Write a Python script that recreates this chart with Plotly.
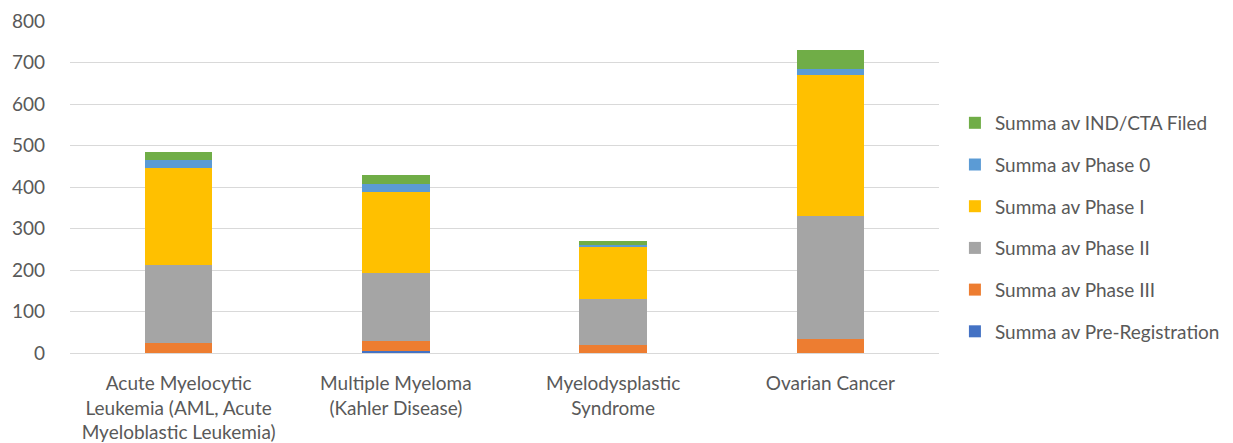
import plotly.graph_objects as go

categories = ["Acute Myelocytic<br>Leukemia (AML, Acute<br>Myeloblastic Leukemia)",
              "Multiple Myeloma<br>(Kahler Disease)",
              "Myelodysplastic<br>Syndrome",
              "Ovarian Cancer"]
series_names = ["Summa av Pre-Registration", "Summa av Phase III", "Summa av Phase II",
                "Summa av Phase I", "Summa av Phase 0", "Summa av IND/CTA Filed"]
pre_registration = [0, 5, 0, 1]
phase_iii = [24, 25, 19, 33]
phase_ii = [189, 163, 112, 297]
phase_i = [233, 194, 125, 338]
phase_0 = [19, 21, 4, 15]
ind_cta = [19, 21, 11, 45]
colors = ["#4472C4", "#ED7D31", "#A5A5A5", "#FFC000", "#5B9BD5", "#70AD47"]

values = [pre_registration, phase_iii, phase_ii, phase_i, phase_0, ind_cta]

fig = go.Figure()
n = len(series_names)
for i, (name, vals, c) in enumerate(zip(series_names, values, colors)):
    fig.add_trace(go.Bar(x=categories, y=vals, name=name, marker_color=c,
                         marker_line_width=0, legendgroup=name, legendrank=n - i))

font = "Lato, Carlito, Calibri, sans-serif"
fig.update_layout(
    barmode="stack",
    bargap=0.69,
    width=1225, height=435,
    margin=dict(l=62, r=294, t=13, b=90),
    plot_bgcolor="white", paper_bgcolor="white",
    font=dict(family=font, size=19, color="#595959"),
    legend=dict(traceorder="grouped", xref="container", yref="container",
                x=0.773, y=0.4955, yanchor="middle", xanchor="left", maxheight=420,
                font=dict(size=19, color="#595959"), tracegroupgap=14),
    yaxis=dict(range=[0, 800], dtick=100, showgrid=True, gridcolor="#d9d9d9",
               gridwidth=1, zeroline=False, ticks="", tickfont=dict(size=19),
               automargin=False, ticklabelstandoff=24),
    xaxis=dict(showline=True, linecolor="#d9d9d9", ticks="", tickfont=dict(size=19),
               automargin=False, ticklabelstandoff=13),
)
fig.write_html("out.html")
